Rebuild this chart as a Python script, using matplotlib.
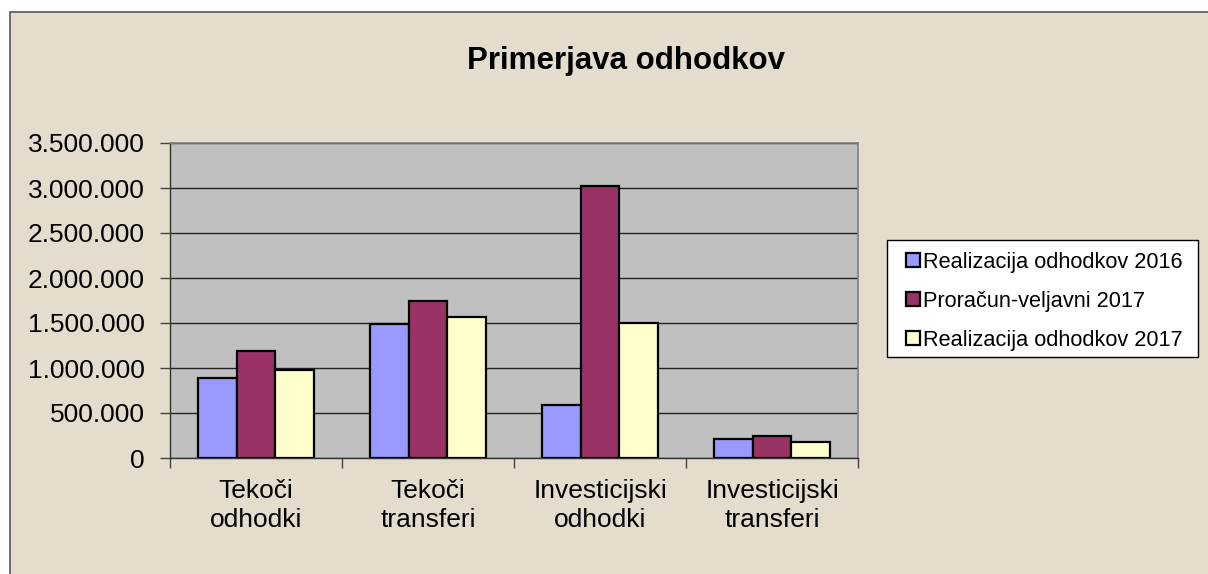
import matplotlib
matplotlib.use("Agg")
import matplotlib.pyplot as plt
import numpy as np
from matplotlib.patches import Rectangle
from matplotlib.ticker import FuncFormatter, FixedLocator

plt.rcParams['font.family'] = ['Liberation Sans', 'DejaVu Sans']

categories = ["Tekoči\nodhodki", "Tekoči\ntransferi", "Investicijski\nodhodki", "Investicijski\ntransferi"]
series_names = ["Realizacija odhodkov 2016", "Proračun-veljavni 2017", "Realizacija odhodkov 2017"]
real_2016 = [889000, 1485000, 593000, 207000]
budget_2017 = [1189000, 1748000, 3019000, 244000]
real_2017 = [981000, 1567000, 1496000, 181000]
colors = ["#9999ff", "#993366", "#ffffcc"]
yticks = [0, 500000, 1000000, 1500000, 2000000, 2500000, 3000000, 3500000]

W, H = 1208, 574
fig = plt.figure(figsize=(W / 100, H / 100), dpi=100)
fig.patch.set_facecolor("white")
bg = Rectangle((10 / W, -0.2), 1.3, 1.2 - 12 / H, transform=fig.transFigure,
               facecolor="#e4dccd", edgecolor="#555555", linewidth=1.2, zorder=-10)
fig.patches.append(bg)

ax = fig.add_axes([170 / W, 1 - 458 / H, (858 - 170) / W, (458 - 143) / H])
ax.set_facecolor("#c0c0c0")

x = np.arange(len(categories))
bw = 0.224
for i, (vals, c, name) in enumerate(zip([real_2016, budget_2017, real_2017], colors, series_names)):
    ax.bar(x + (i - 1) * bw, vals, width=bw, color=c, edgecolor="black", linewidth=1.6,
           label=name, zorder=3)

ax.set_xlim(-0.5, len(categories) - 0.5)
ax.set_ylim(0, 3500000)
ax.set_yticks(yticks)
ax.yaxis.set_major_formatter(FuncFormatter(lambda v, p: f"{int(v):,}".replace(",", ".")))
ax.grid(axis="y", color="#222222", linewidth=1.0, zorder=1)
ax.tick_params(axis="y", labelsize=19, length=7, width=1, color="#444444", pad=11)

ax.xaxis.set_major_locator(FixedLocator(x))
ax.set_xticklabels(categories, fontsize=19, linespacing=1.25)
ax.xaxis.set_minor_locator(FixedLocator(np.arange(-0.5, len(categories), 1.0)))
ax.tick_params(axis="x", which="major", length=0, pad=15)
ax.tick_params(axis="x", which="minor", length=7, width=1, color="#444444")

for s in ["top", "right"]:
    ax.spines[s].set_color("#808080")
    ax.spines[s].set_linewidth(1.2)
for s in ["left", "bottom"]:
    ax.spines[s].set_color("#333333")
    ax.spines[s].set_linewidth(1.0)

fig.text(626 / W, 1 - 61 / H, "Primerjava odhodkov", ha="center", va="center",
         fontsize=22.5, fontweight="bold")

# legend frame
frame = Rectangle((887 / W, 1 - 357 / H), (1198 - 887) / W, (357 - 240) / H,
                  transform=fig.transFigure, facecolor="white", edgecolor="black",
                  linewidth=1.0, zorder=5)
fig.patches.append(frame)
leg = fig.legend(*ax.get_legend_handles_labels(), loc="upper left",
                 bbox_to_anchor=(906 / W, 1 - 252 / H), bbox_transform=fig.transFigure,
                 fontsize=15.7, frameon=False,
                 handlelength=0.62, handleheight=0.62, handletextpad=0.15, labelspacing=0.82,
                 borderpad=0, borderaxespad=0)
leg.set_zorder(6)

fig.savefig("out.png", dpi=100)
